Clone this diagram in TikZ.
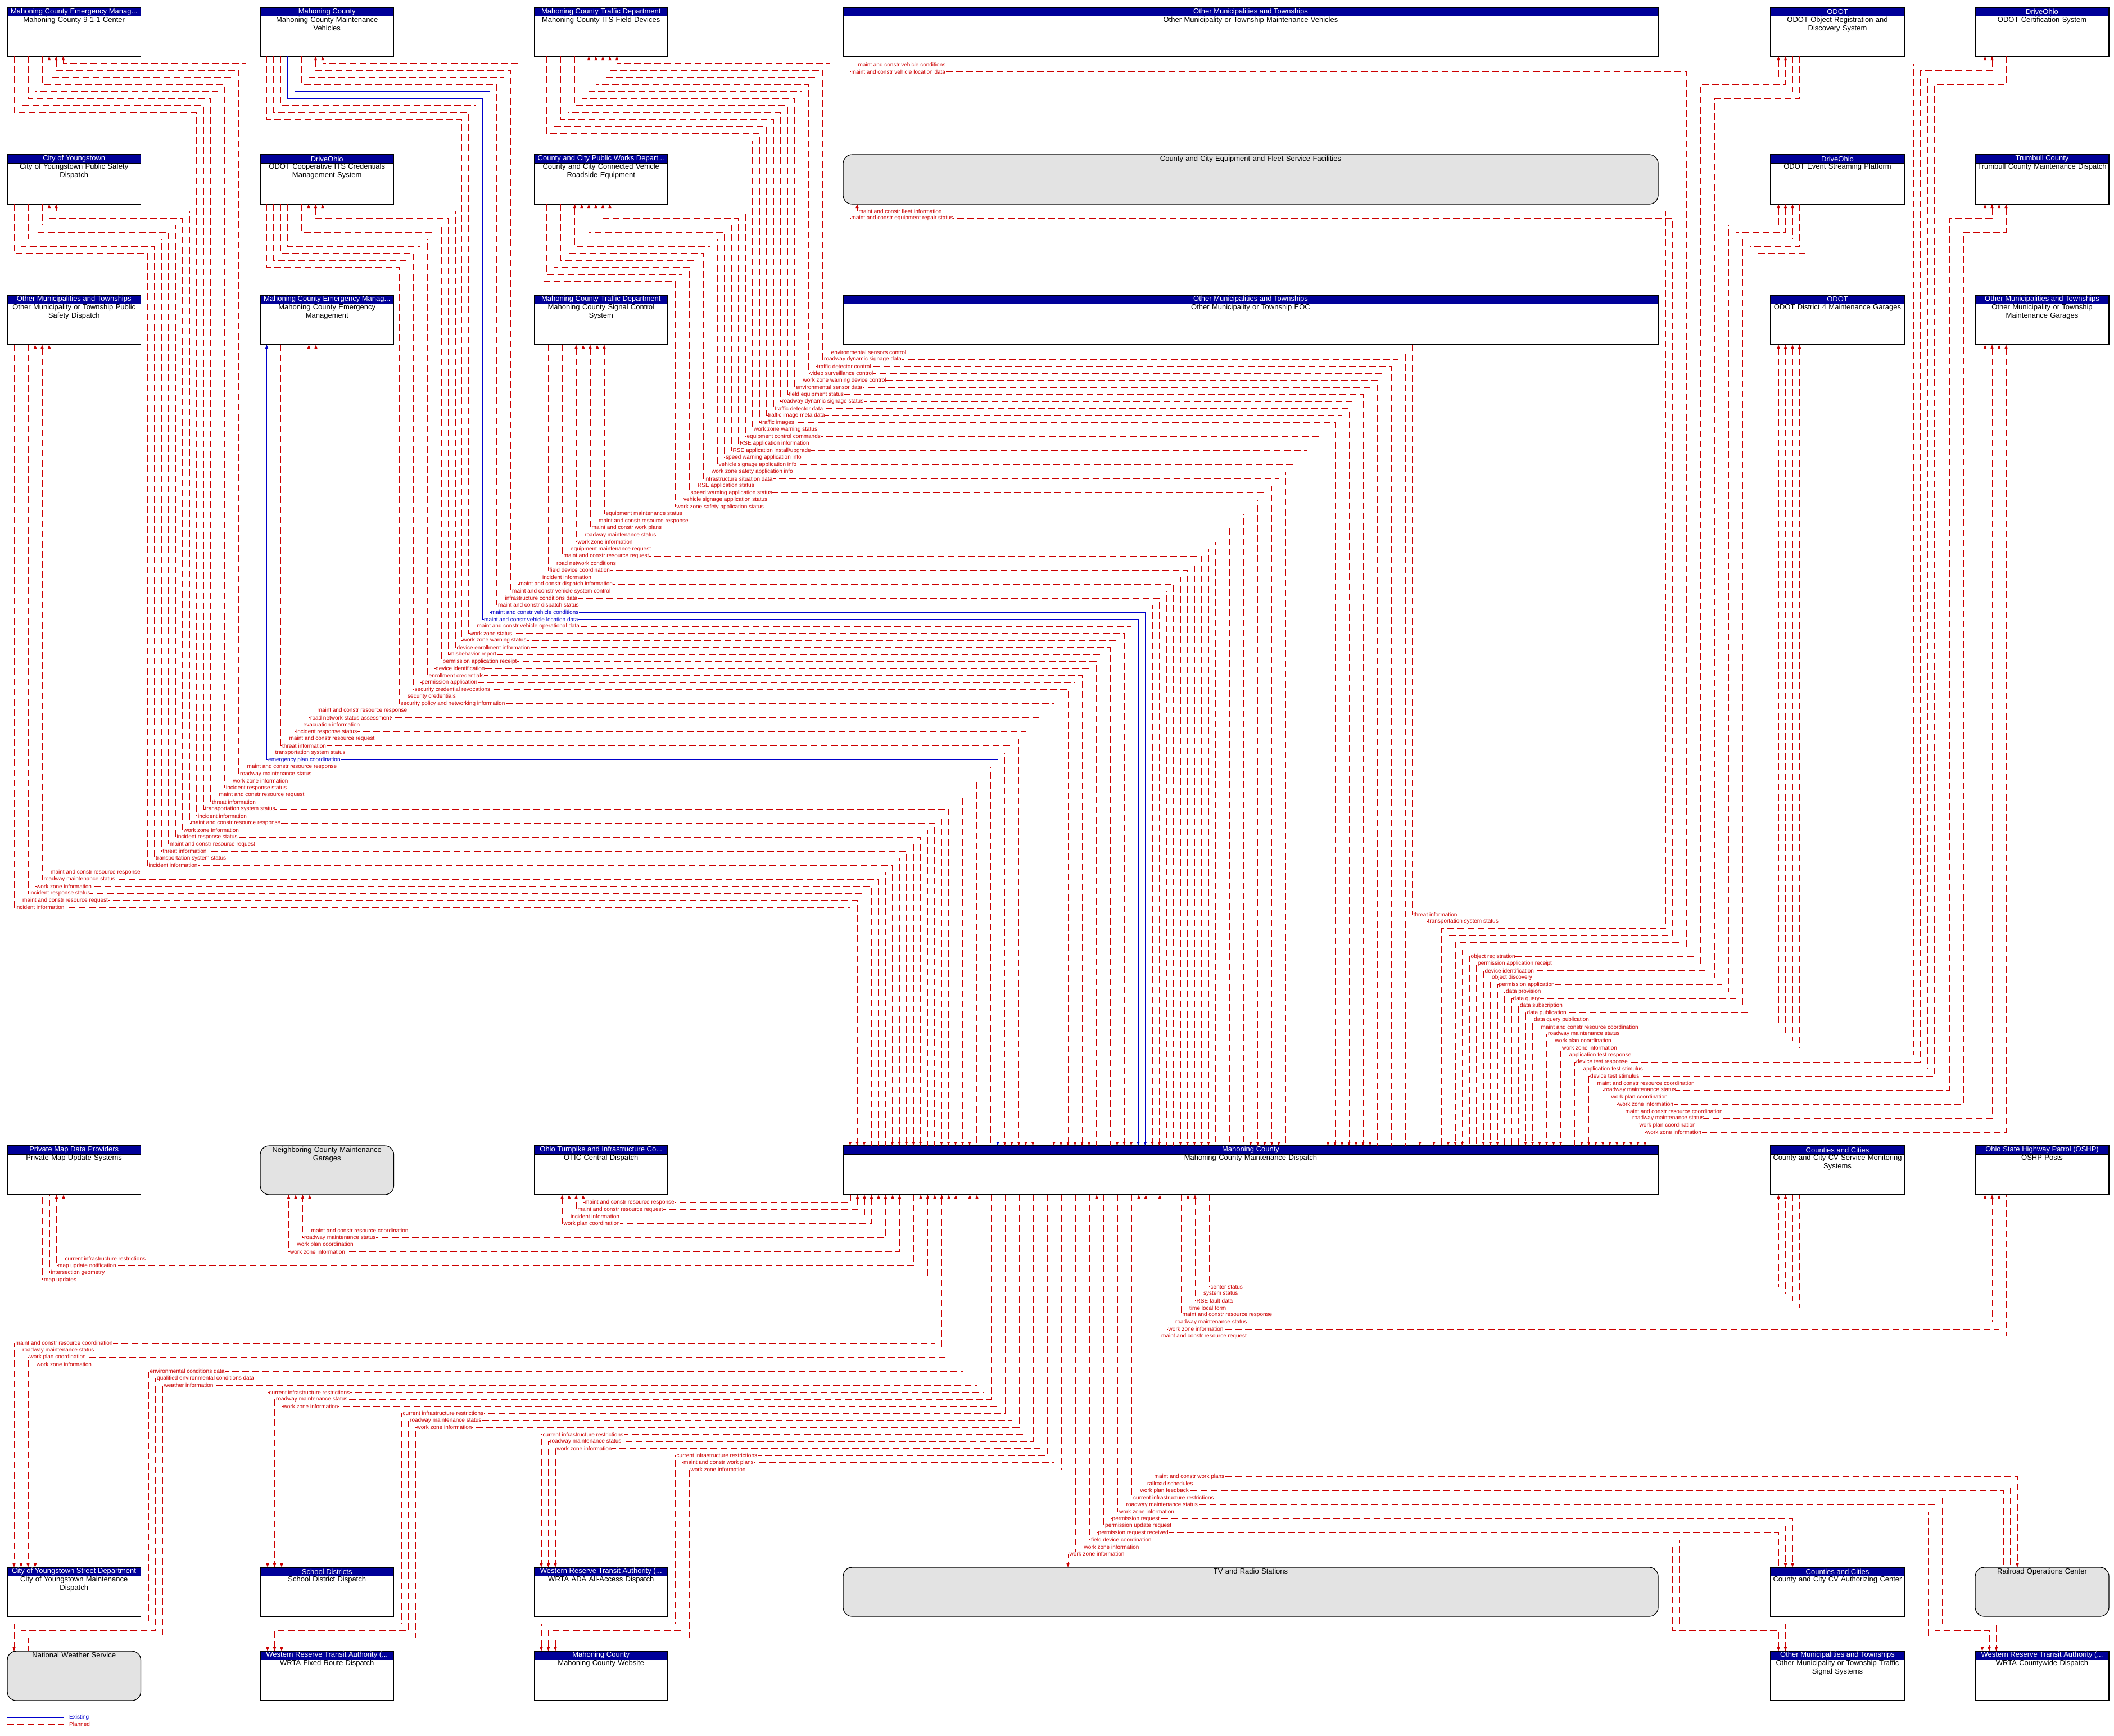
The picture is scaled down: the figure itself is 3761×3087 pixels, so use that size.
\documentclass[tikz,border=0pt]{standalone}
\usepackage{fontspec}
\setmainfont{Liberation Sans}
\usetikzlibrary{arrows.meta}
\hyphenpenalty=10000
\exhyphenpenalty=10000
\definecolor{plred}{RGB}{204,0,0}
\definecolor{exblue}{RGB}{0,0,204}
\definecolor{hdrblue}{RGB}{0,0,153}
\definecolor{boxgrey}{RGB}{227,227,227}
\pgfdeclarelayer{fg}
\pgfsetlayers{main,fg}
\newcounter{labc}
\tikzset{
 pl/.style={draw=plred, line width=1pt, dash pattern=on 12pt off 6pt},
 ex/.style={draw=exblue, line width=1pt},
 plt/.style={text=plred},
 ext/.style={text=exblue},
 lab/.style={font=\fontsize{10}{10}\selectfont, anchor=west, fill=white, inner sep=0.5pt, xshift=2pt},
 hdrtxt/.style={font=\fontsize{13}{15}\selectfont, text=white, inner sep=0pt},
 bodytxt/.style={font=\fontsize{13}{15}\selectfont, text=black, align=center, anchor=north, inner sep=0pt},
}
% boxes
\newcommand\BOX[7]{%
 \pgfmathsetmacro\qw{#4-#2}\pgfmathsetmacro\qh{#5-#3}\pgfmathsetmacro\qtw{#4-#2-2}%
 \node[draw=black, line width=1.2pt, fill=white, anchor=north west, minimum width=\qw pt, minimum height=\qh pt, inner sep=0pt, outer sep=0pt] (#1) at (#2,#3) {};
 \fill[hdrblue] (#1.north west) rectangle ([yshift=-15pt]#1.north east);
 \draw[line width=1.2pt] (#1.north west) rectangle (#1.south east);
 \draw[line width=1pt] ([yshift=-15pt]#1.north west) -- ([yshift=-15pt]#1.north east);
 \node[hdrtxt] (#1-h) at ([yshift=-7.5pt]#1.north) {#6};
 \node[bodytxt, text width=\qtw pt] (#1-t) at ([yshift=-16pt]#1.north) {#7};}
\newcommand\RBOX[6]{%
 \pgfmathsetmacro\qw{#4-#2}\pgfmathsetmacro\qh{#5-#3}\pgfmathsetmacro\qtw{#4-#2-2}%
 \node[draw=black, line width=1.2pt, fill=boxgrey, rounded corners=16pt, anchor=north west, minimum width=\qw pt, minimum height=\qh pt, inner sep=0pt, outer sep=0pt] (#1) at (#2,#3) {};
 \node[bodytxt, text width=\qtw pt] (#1-t) at ([yshift=-2pt]#1.north) {#6};}
% upper flows
\newcommand\SetG[5]{\def\Gsrc{#1}\def\Gsx{#2}\def\Gd{#3}\def\Gjy{#4}\def\Gcx{#5}}
\newcommand\SetGi[1]{\def\Gi{#1}}
\newcommand\QDX{\pgfmathsetmacro\qdx{(\qi<80)?(2500-12.5*\qi):(2564+12.5*(\qi-82))}}
\newcommand\GJ[4]{%
 \pgfmathsetmacro\qsx{\Gsx+(\Gd)*#1}%
 \pgfmathsetmacro\qjy{\Gjy+12.5*#1}%
 \pgfmathsetmacro\qcx{\Gcx+(\Gd)*#1}%
 \pgfmathsetmacro\qi{\Gi+#1}%
 \pgfmathsetmacro\qry{626.5+12.5*\qi}%
 \QDX
 \pgfmathsetmacro\qlx{min(\qcx,\qdx)}%
 \draw[#3,#4] (\qsx,0 |- \Gsrc.south) -- (\qsx,\qjy) -- (\qcx,\qjy) -- (\qcx,\qry) -- (\qdx,\qry) -- (\qdx,0 |- disp.north);%
 \stepcounter{labc}%
 \begin{pgfonlayer}{fg}\node[lab,#3t] (lab\arabic{labc}) at (\qlx,\qry) {#2};\end{pgfonlayer}}
\newcommand\GD[4]{%
 \pgfmathsetmacro\qsx{\Gsx+(\Gd)*#1}%
 \pgfmathsetmacro\qi{\Gi+#1}%
 \pgfmathsetmacro\qry{626.5+12.5*\qi}%
 \QDX
 \pgfmathsetmacro\qlx{min(\qsx,\qdx)}%
 \draw[#3,#4] (\qsx,0 |- \Gsrc.south) -- (\qsx,\qry) -- (\qdx,\qry) -- (\qdx,0 |- disp.north);%
 \stepcounter{labc}%
 \begin{pgfonlayer}{fg}\node[lab,#3t] (lab\arabic{labc}) at (\qlx,\qry) {#2};\end{pgfonlayer}}
% lower flows
\newcommand\SetH[6]{\def\Hanc{#1}\def\Htx{#2}\def\Hd{#3}\def\Hjy{#4}\def\Hcx{#5}\def\HL{#6}}
\newcommand\QLDX{\pgfmathsetmacro\qdx{(\qL<12)?(1513+12.5*\qL):((\qL<20)?(2151-12.5*(\qL-12)):((\qL<39)?(1513+12.5*(\qL-8)):(2051-12.5*(\qL-39))))}}
\newcommand\HD[4]{%
 \pgfmathsetmacro\qL{\HL+#1}%
 \pgfmathsetmacro\qry{2139+12.5*\qL}%
 \QLDX
 \pgfmathsetmacro\qtx{\Htx+(\Hd)*#1}%
 \pgfmathsetmacro\qlx{min(\qtx,\qdx)}%
 \draw[#3,#4] (\qdx,0 |- disp.south) -- (\qdx,\qry) -- (\qtx,\qry) -- (\qtx,0 |- \Hanc);%
 \stepcounter{labc}%
 \begin{pgfonlayer}{fg}\node[lab,#3t] (lab\arabic{labc}) at (\qlx,\qry) {#2};\end{pgfonlayer}}
\newcommand\HJ[4]{%
 \pgfmathsetmacro\qL{\HL+#1}%
 \pgfmathsetmacro\qry{2139+12.5*\qL}%
 \QLDX
 \pgfmathsetmacro\qtx{\Htx+(\Hd)*#1}%
 \pgfmathsetmacro\qcx{\Hcx+(\Hd)*#1}%
 \pgfmathsetmacro\qjy{\Hjy+12.5*#1}%
 \pgfmathsetmacro\qlx{min(\qcx,\qdx)}%
 \draw[#3,#4] (\qdx,0 |- disp.south) -- (\qdx,\qry) -- (\qcx,\qry) -- (\qcx,\qjy) -- (\qtx,\qjy) -- (\qtx,0 |- \Hanc);%
 \stepcounter{labc}%
 \begin{pgfonlayer}{fg}\node[lab,#3t] (lab\arabic{labc}) at (\qlx,\qry) {#2};\end{pgfonlayer}}

\begin{document}
\begin{tikzpicture}[x=1pt,y=-1pt, >={Triangle[length=7pt,width=5pt]}]
\useasboundingbox (0,0) rectangle (3761,3087);
\fill[white] (0,0) rectangle (3761,3087);
% ---------- nodes ----------
\BOX{n911}{13}{13.5}{250.5}{100}{Mahoning County Emergency Manag...}{Mahoning County 9-1-1 Center}
\BOX{mcmv}{463}{13.5}{700.5}{100}{Mahoning County}{Mahoning County Maintenance\\Vehicles}
\BOX{its}{950.5}{13.5}{1188}{100}{Mahoning County Traffic Department}{Mahoning County ITS Field Devices}
\BOX{ommv}{1500}{13.5}{2950}{100}{Other Municipalities and Townships}{Other Municipality or Township Maintenance Vehicles}
\BOX{ord}{3150}{13.5}{3388}{100}{ODOT}{ODOT Object Registration and\\Discovery System}
\BOX{cs}{3514}{13.5}{3752}{100}{DriveOhio}{ODOT Certification System}
\BOX{ypsd}{13}{275}{250.5}{363}{City of Youngstown}{City of Youngstown Public Safety\\Dispatch}
\BOX{cred}{463}{275}{700.5}{363}{DriveOhio}{ODOT Cooperative ITS Credentials\\Management System}
\BOX{rse}{950.5}{275}{1188}{363}{County and City Public Works Depart...}{County and City Connected Vehicle\\Roadside Equipment}
\RBOX{fleet}{1500}{275}{2950}{363}{County and City Equipment and Fleet Service Facilities}
\BOX{esp}{3150}{275}{3388}{363}{DriveOhio}{ODOT Event Streaming Platform}
\BOX{tcmd}{3514}{275}{3752}{363}{Trumbull County}{Trumbull County Maintenance Dispatch}
\BOX{opsd}{13}{525}{250.5}{613}{Other Municipalities and Townships}{Other Municipality or Township Public\\Safety Dispatch}
\BOX{em}{463}{525}{700.5}{613}{Mahoning County Emergency Manag...}{Mahoning County Emergency\\Management}
\BOX{sig}{950.5}{525}{1188}{613}{Mahoning County Traffic Department}{Mahoning County Signal Control\\System}
\BOX{eoc}{1500}{525}{2950}{613}{Other Municipalities and Townships}{Other Municipality or Township EOC}
\BOX{dfour}{3150}{525}{3388}{613}{ODOT}{ODOT District 4 Maintenance Garages}
\BOX{omg}{3514}{525}{3752}{613}{Other Municipalities and Townships}{Other Municipality or Township\\Maintenance Garages}
\BOX{pmap}{13}{2038}{250.5}{2125}{Private Map Data Providers}{Private Map Update Systems}
\RBOX{ncmg}{463}{2038}{700.5}{2125}{Neighboring County Maintenance\\Garages}
\BOX{otic}{950.5}{2038}{1188}{2125}{Ohio Turnpike and Infrastructure Co...}{OTIC Central Dispatch}
\BOX{disp}{1500}{2038}{2950}{2125}{Mahoning County}{Mahoning County Maintenance Dispatch}
\BOX{cvsm}{3150}{2038}{3388}{2125}{Counties and Cities}{County and City CV Service Monitoring\\Systems}
\BOX{oshp}{3514}{2038}{3752}{2125}{Ohio State Highway Patrol (OSHP)}{OSHP Posts}
\BOX{ysd}{13}{2788}{250.5}{2875}{City of Youngstown Street Department}{City of Youngstown Maintenance\\Dispatch}
\BOX{sdd}{463}{2788}{700.5}{2875}{School Districts}{School District Dispatch}
\BOX{ada}{950.5}{2788}{1188}{2875}{Western Reserve Transit Authority (...}{WRTA ADA All-Access Dispatch}
\RBOX{tv}{1500}{2788}{2950}{2875}{TV and Radio Stations}
\BOX{cvac}{3150}{2788}{3388}{2875}{Counties and Cities}{County and City CV Authorizing Center}
\RBOX{rr}{3514}{2788}{3752}{2875}{Railroad Operations Center}
\RBOX{nws}{13}{2937}{250.5}{3025}{National Weather Service}
\BOX{wfr}{463}{2937}{700.5}{3025}{Western Reserve Transit Authority (...}{WRTA Fixed Route Dispatch}
\BOX{web}{950.5}{2937}{1188}{3025}{Mahoning County}{Mahoning County Website}
\BOX{otss}{3150}{2937}{3388}{3025}{Other Municipalities and Townships}{Other Municipality or Township Traffic\\Signal Systems}
\BOX{wcd}{3514}{2937}{3752}{3025}{Western Reserve Transit Authority (...}{WRTA Countywide Dispatch}

% ---------- upper flows ----------
\SetG{its}{1097.5}{-12.5}{112.5}{1476}\SetGi{0}
\GJ{0}{environmental sensors control}{pl}{<-}
\GJ{1}{roadway dynamic signage data}{pl}{<-}
\GJ{2}{traffic detector control}{pl}{<-}
\GJ{3}{video surveillance control}{pl}{<-}
\GJ{4}{work zone warning device control}{pl}{<-}
\GJ{5}{environmental sensor data}{pl}{->}
\GJ{6}{field equipment status}{pl}{->}
\GJ{7}{roadway dynamic signage status}{pl}{->}
\GJ{8}{traffic detector data}{pl}{->}
\GJ{9}{traffic image meta data}{pl}{->}
\GJ{10}{traffic images}{pl}{->}
\GJ{11}{work zone warning status}{pl}{->}
\SetG{rse}{1085}{-12.5}{375.5}{1326}\SetGi{12}
\GJ{0}{equipment control commands}{pl}{<-}
\GJ{1}{RSE application information}{pl}{<-}
\GJ{2}{RSE application install/upgrade}{pl}{<-}
\GJ{3}{speed warning application info}{pl}{<-}
\GJ{4}{vehicle signage application info}{pl}{<-}
\GJ{5}{work zone safety application info}{pl}{<-}
\GJ{6}{infrastructure situation data}{pl}{->}
\GJ{7}{RSE application status}{pl}{->}
\GJ{8}{speed warning application status}{pl}{->}
\GJ{9}{vehicle signage application status}{pl}{->}
\GJ{10}{work zone safety application status}{pl}{->}
\SetG{sig}{1075}{-12.5}{0}{0}\SetGi{23}
\GD{0}{equipment maintenance status}{pl}{<-}
\GD{1}{maint and constr resource response}{pl}{<-}
\GD{2}{maint and constr work plans}{pl}{<-}
\GD{3}{roadway maintenance status}{pl}{<-}
\GD{4}{work zone information}{pl}{<-}
\GD{5}{equipment maintenance request}{pl}{->}
\GD{6}{maint and constr resource request}{pl}{->}
\GD{7}{road network conditions}{pl}{->}
\GD{8}{field device coordination}{pl}{->}
\GD{9}{incident information}{pl}{->}
\SetG{mcmv}{574}{-12.5}{112.5}{921}\SetGi{33}
\GJ{0}{maint and constr dispatch information}{pl}{<-}
\GJ{1}{maint and constr vehicle system control}{pl}{<-}
\GJ{2}{infrastructure conditions data}{pl}{->}
\GJ{3}{maint and constr dispatch status}{pl}{->}
\GJ{4}{maint and constr vehicle conditions}{ex}{->}
\GJ{5}{maint and constr vehicle location data}{ex}{->}
\GJ{6}{maint and constr vehicle operational data}{pl}{->}
\GJ{7}{work zone status}{pl}{->}
\GJ{8}{work zone warning status}{pl}{->}
\SetG{cred}{574}{-12.5}{375.5}{810}\SetGi{42}
\GJ{0}{device enrollment information}{pl}{<-}
\GJ{1}{misbehavior report}{pl}{<-}
\GJ{2}{permission application receipt}{pl}{<-}
\GJ{3}{device identification}{pl}{->}
\GJ{4}{enrollment credentials}{pl}{->}
\GJ{5}{permission application}{pl}{->}
\GJ{6}{security credential revocations}{pl}{->}
\GJ{7}{security credentials}{pl}{->}
\GJ{8}{security policy and networking information}{pl}{->}
\SetG{em}{562}{-12.5}{0}{0}\SetGi{51}
\GD{0}{maint and constr resource response}{pl}{<-}
\GD{1}{road network status assessment}{pl}{<-}
\GD{2}{evacuation information}{pl}{->}
\GD{3}{incident response status}{pl}{->}
\GD{4}{maint and constr resource request}{pl}{->}
\GD{5}{threat information}{pl}{->}
\GD{6}{transportation system status}{pl}{->}
\GD{7}{emergency plan coordination}{ex}{<->}
\SetG{n911}{112.5}{-12.5}{112.5}{437}\SetGi{59}
\GJ{0}{maint and constr resource response}{pl}{<-}
\GJ{1}{roadway maintenance status}{pl}{<-}
\GJ{2}{work zone information}{pl}{<-}
\GJ{3}{incident response status}{pl}{->}
\GJ{4}{maint and constr resource request}{pl}{->}
\GJ{5}{threat information}{pl}{->}
\GJ{6}{transportation system status}{pl}{->}
\GJ{7}{incident information}{pl}{->}
\SetG{ypsd}{100}{-12.5}{375.5}{337}\SetGi{67}
\GJ{0}{maint and constr resource response}{pl}{<-}
\GJ{1}{work zone information}{pl}{<-}
\GJ{2}{incident response status}{pl}{->}
\GJ{3}{maint and constr resource request}{pl}{->}
\GJ{4}{threat information}{pl}{->}
\GJ{5}{transportation system status}{pl}{->}
\GJ{6}{incident information}{pl}{->}
\SetG{opsd}{87.5}{-12.5}{0}{0}\SetGi{74}
\GD{0}{maint and constr resource response}{pl}{<-}
\GD{1}{roadway maintenance status}{pl}{<-}
\GD{2}{work zone information}{pl}{<-}
\GD{3}{incident response status}{pl}{->}
\GD{4}{maint and constr resource request}{pl}{->}
\GD{5}{incident information}{pl}{->}
% EOC
\draw[pl,->] (2512,0 |- eoc.south) -- (2512,1626.5) -- (2526,1626.5) -- (2526,0 |- disp.north);
\draw[pl,->] (2538,0 |- eoc.south) -- (2538,1639) -- (2551,1639) -- (2551,0 |- disp.north);
\begin{pgfonlayer}{fg}
\node[lab,plt] (eocl1) at (2512,1626.5) {threat information};
\node[lab,plt] (eocl2) at (2538,1639) {transportation system status};
\end{pgfonlayer}
% fleet and other vehicles
\draw[pl,<-] (1525,0 |- fleet.south) -- (1525,375.5) -- (2963,375.5) -- (2963,1651.5) -- (2564,1651.5) -- (2564,0 |- disp.north);
\draw[pl,->] (1512,0 |- fleet.south) -- (1512,388) -- (2975.5,388) -- (2975.5,1664) -- (2576.5,1664) -- (2576.5,0 |- disp.north);
\draw[pl,->] (1524,0 |- ommv.south) -- (1524,115) -- (2988,115) -- (2988,1676.5) -- (2589,1676.5) -- (2589,0 |- disp.north);
\draw[pl,->] (1512,0 |- ommv.south) -- (1512,127.5) -- (3000.5,127.5) -- (3000.5,1689) -- (2601.5,1689) -- (2601.5,0 |- disp.north);
\begin{pgfonlayer}{fg}
\node[lab,plt] (fl1) at (1525,375.5) {maint and constr fleet information};
\node[lab,plt] (fl2) at (1512,388) {maint and constr equipment repair status};
\node[lab,plt] (ov1) at (1524,115) {maint and constr vehicle conditions};
\node[lab,plt] (ov2) at (1512,127.5) {maint and constr vehicle location data};
\end{pgfonlayer}
% right side
\SetG{ord}{3164}{12.5}{138}{3013}\SetGi{86}
\GJ{0}{object registration}{pl}{<-}
\GJ{1}{permission application receipt}{pl}{<-}
\GJ{2}{device identification}{pl}{->}
\GJ{3}{object discovery}{pl}{->}
\GJ{4}{permission application}{pl}{->}
\SetG{esp}{3164}{12.5}{400.5}{3075.5}\SetGi{91}
\GJ{0}{data provision}{pl}{<-}
\GJ{1}{data query}{pl}{<-}
\GJ{2}{data subscription}{pl}{<-}
\GJ{3}{data publication}{pl}{->}
\GJ{4}{data query publication}{pl}{->}
\SetG{dfour}{3164}{12.5}{0}{0}\SetGi{96}
\GD{0}{maint and constr resource coordination}{pl}{<->}
\GD{1}{roadway maintenance status}{pl}{<->}
\GD{2}{work plan coordination}{pl}{<->}
\GD{3}{work zone information}{pl}{<->}
\SetG{cs}{3531.5}{12.5}{113}{3404}\SetGi{100}
\GJ{0}{application test response}{pl}{<-}
\GJ{1}{device test response}{pl}{<-}
\GJ{2}{application test stimulus}{pl}{->}
\GJ{3}{device test stimulus}{pl}{->}
\SetG{tcmd}{3531.5}{12.5}{375.5}{3456}\SetGi{104}
\GJ{0}{maint and constr resource coordination}{pl}{<->}
\GJ{1}{roadway maintenance status}{pl}{<->}
\GJ{2}{work plan coordination}{pl}{<->}
\GJ{3}{work zone information}{pl}{<->}
\SetG{omg}{3531.5}{12.5}{0}{0}\SetGi{108}
\GD{0}{maint and constr resource coordination}{pl}{<->}
\GD{1}{roadway maintenance status}{pl}{<->}
\GD{2}{work plan coordination}{pl}{<->}
\GD{3}{work zone information}{pl}{<->}

% ---------- lower flows ----------
\SetH{otic.south}{1037.5}{-12.5}{0}{0}{0}
\HD{0}{maint and constr resource response}{pl}{->}
\HD{1}{maint and constr resource request}{pl}{<->}
\HD{2}{incident information}{pl}{<->}
\HD{3}{work plan coordination}{pl}{<->}
\SetH{ncmg.south}{551}{-12.5}{0}{0}{4}
\HD{0}{maint and constr resource coordination}{pl}{<->}
\HD{1}{roadway maintenance status}{pl}{<->}
\HD{2}{work plan coordination}{pl}{<->}
\HD{3}{work zone information}{pl}{<->}
\SetH{pmap.south}{113}{-12.5}{0}{0}{8}
\HD{0}{current infrastructure restrictions}{pl}{->}
\HD{1}{map update notification}{pl}{->}
\HD{2}{intersection geometry}{pl}{<-}
\HD{3}{map updates}{pl}{<-}
\SetH{cvsm.south}{3164}{12.5}{0}{0}{12}
\HD{0}{center status}{pl}{->}
\HD{1}{system status}{pl}{->}
\HD{2}{RSE fault data}{pl}{<-}
\HD{3}{time local form}{pl}{<-}
\SetH{oshp.south}{3531.5}{12.5}{0}{0}{16}
\HD{0}{maint and constr resource response}{pl}{->}
\HD{1}{roadway maintenance status}{pl}{->}
\HD{2}{work zone information}{pl}{->}
\HD{3}{maint and constr resource request}{pl}{<-}
\SetH{ysd.north}{25}{12.5}{0}{0}{20}
\HD{0}{maint and constr resource coordination}{pl}{<->}
\HD{1}{roadway maintenance status}{pl}{<->}
\HD{2}{work plan coordination}{pl}{<->}
\HD{3}{work zone information}{pl}{<->}
\SetH{nws.north}{25}{12.5}{2888}{264}{24}
\HJ{0}{environmental conditions data}{pl}{->}
\HJ{1}{qualified environmental conditions data}{pl}{<-}
\HJ{2}{weather information}{pl}{<-}
\SetH{sdd.north}{476}{12.5}{0}{0}{27}
\HD{0}{current infrastructure restrictions}{pl}{->}
\HD{1}{roadway maintenance status}{pl}{->}
\HD{2}{work zone information}{pl}{->}
\SetH{wfr.north}{476}{12.5}{2888}{714}{30}
\HJ{0}{current infrastructure restrictions}{pl}{->}
\HJ{1}{roadway maintenance status}{pl}{->}
\HJ{2}{work zone information}{pl}{->}
\SetH{ada.north}{963}{12.5}{0}{0}{33}
\HD{0}{current infrastructure restrictions}{pl}{->}
\HD{1}{roadway maintenance status}{pl}{->}
\HD{2}{work zone information}{pl}{->}
\SetH{web.north}{963}{12.5}{2888}{1201}{36}
\HJ{0}{current infrastructure restrictions}{pl}{->}
\HJ{1}{maint and constr work plans}{pl}{->}
\HJ{2}{work zone information}{pl}{->}
\SetH{rr.north}{3589}{-12.5}{0}{0}{39}
\HD{0}{maint and constr work plans}{pl}{->}
\HD{1}{railroad schedules}{pl}{<-}
\HD{2}{work plan feedback}{pl}{<-}
\SetH{wcd.north}{3551.5}{-12.5}{2888}{3455}{42}
\HJ{0}{current infrastructure restrictions}{pl}{->}
\HJ{1}{roadway maintenance status}{pl}{->}
\HJ{2}{work zone information}{pl}{->}
\SetH{cvac.north}{3189}{-12.5}{0}{0}{45}
\HD{0}{permission request}{pl}{->}
\HD{1}{permission update request}{pl}{->}
\HD{2}{permission request received}{pl}{<-}
\SetH{otss.north}{3176.5}{-12.5}{2888}{2987.5}{48}
\HJ{0}{field device coordination}{pl}{->}
\HJ{1}{work zone information}{pl}{->}
\SetH{tv.north}{1900}{0}{0}{0}{50}
\HD{0}{work zone information}{pl}{->}

% ---------- legend ----------
\coordinate (lgA) at (13,3055); \coordinate (lgB) at (113,3055);
\coordinate (lgC) at (13,3067); \coordinate (lgD) at (113,3067);
\draw[ex] (lgA) -- (lgB);
\draw[pl] (lgC) -- (lgD);
\node[anchor=west, text=exblue, font=\fontsize{10}{10}\selectfont, inner sep=0pt] (lgE) at (123,3055) {Existing};
\node[anchor=west, text=plred, font=\fontsize{10}{10}\selectfont, inner sep=0pt] (lgP) at (123,3067) {Planned};
\end{tikzpicture}
\end{document}
